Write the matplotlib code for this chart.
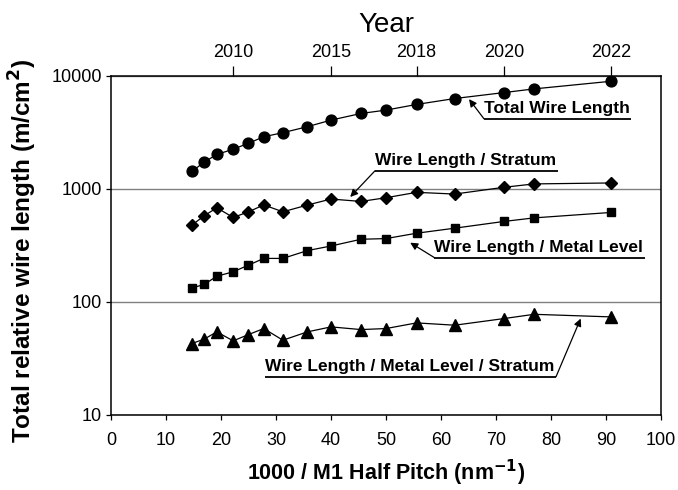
import numpy as np
import matplotlib.pyplot as plt
from matplotlib.ticker import NullLocator

plt.rcParams['font.family'] = ['Liberation Sans', 'DejaVu Sans']

# roadmap years and M1 half pitch (nm)
years = [2007, 2008, 2009, 2010, 2011, 2012, 2013, 2014,
         2015, 2016, 2017, 2018, 2019, 2020, 2021, 2022]
half_pitch = [68, 59, 52, 45, 40, 36, 32, 28, 25, 22, 20, 18, 16, 14, 13, 11]

# relative wire length (m/cm^2)
total = [1430, 1730, 2020, 2250, 2540, 2900, 3150, 3560,
         4070, 4660, 4990, 5600, 6320, 7130, 7690, 8980]
per_stratum = [479, 579, 682, 560, 628, 723, 628, 721,
               815, 776, 837, 934, 902, 1035, 1109, 1131]
per_level = [133, 143, 169, 185, 212, 243, 243, 285,
             313, 359, 364, 406, 450, 516, 555, 620]
per_level_stratum = [42.9, 46.9, 54.4, 45.3, 51.5, 58.2, 45.9, 54.4,
                     60.2, 57.0, 58.2, 65.3, 62.3, 71.3, 77.8, 73.8]

year_ticks = [2010, 2015, 2018, 2020, 2022]

x = 1000.0 / np.array(half_pitch)
year_x = [x[years.index(y)] for y in year_ticks]

fig = plt.figure(figsize=(6.78, 4.90), dpi=100)
ax = fig.add_axes([0.1637, 0.1531, 0.8112, 0.6918])

line_kw = dict(color='black', lw=0.9)
ax.plot(x, total, marker='o', ms=7.8, **line_kw)
ax.plot(x, per_stratum, marker='D', ms=6.2, **line_kw)
ax.plot(x, per_level, marker='s', ms=6.0, **line_kw)
ax.plot(x, per_level_stratum, marker='^', ms=8.2, **line_kw)

ax.set_yscale('log')
ax.set_ylim(10, 10000)
ax.set_xlim(0, 100)
ax.set_yticks([10, 100, 1000, 10000])
ax.set_yticklabels(['10', '100', '1000', '10000'])
ax.yaxis.set_minor_locator(NullLocator())
ax.set_xticks(range(0, 101, 10))
ax.yaxis.grid(True, color='#808080', lw=1.0)
ax.set_axisbelow(True)

for s in ax.spines.values():
    s.set_linewidth(1.1)
ax.tick_params(axis='both', direction='out', length=3.6, width=0.9,
               labelsize=13, pad=3)
ax.tick_params(axis='x', pad=9)

ax.set_xlabel('1000 / M1 Half Pitch (nm$^{\\mathbf{-1}}$)', fontsize=15.5,
              fontweight='bold', labelpad=6)
ax.set_ylabel('Total relative wire length (m/cm$^{\\mathbf{2}}$)', fontsize=17.5,
              fontweight='bold')
ax.yaxis.set_label_coords(-0.13, 0.485)

ax2 = ax.twiny()
ax2.set_xlim(0, 100)
ax2.set_xticks(year_x)
ax2.set_xticklabels([str(y) for y in year_ticks])
ax2.tick_params(axis='x', direction='out', length=7.5, width=0.9,
                labelsize=13, pad=3)
ax2.set_xlabel('Year', fontsize=20, labelpad=9)
for s in ax2.spines.values():
    s.set_visible(False)

# labels with underline and arrow: (text, left x, underline y, arrow from which end, tip)
notes = [
    ('Total Wire Length', 67.8, 4190, 'left', (65.1, 6240)),
    ('Wire Length / Stratum', 48.0, 1449, 'left', (43.5, 850)),
    ('Wire Length / Metal Level', 58.8, 247, 'left', (54.4, 335)),
    ('Wire Length / Metal Level / Stratum', 28.0, 21.8, 'right', (85.4, 71.3)),
]
fig.canvas.draw()
inv = ax.transData.inverted()
for label, x0, yu, end, tip in notes:
    t = ax.annotate(label, xy=(x0, yu), xytext=(0, 4), textcoords='offset points',
                    ha='left', va='baseline', fontsize=12.5, fontweight='bold')
    bb = t.get_window_extent(fig.canvas.get_renderer())
    x1 = inv.transform((bb.x1, 0))[0] + 0.3
    ax.plot([x0, x1], [yu, yu], color='black', lw=1.3, solid_capstyle='butt')
    start = (x0, yu) if end == 'left' else (x1, yu)
    ax.annotate('', xy=tip, xytext=start,
                arrowprops=dict(arrowstyle='-|>', color='black', lw=0.9,
                                mutation_scale=11, shrinkA=0, shrinkB=0))

fig.savefig('out.png', dpi=100)
